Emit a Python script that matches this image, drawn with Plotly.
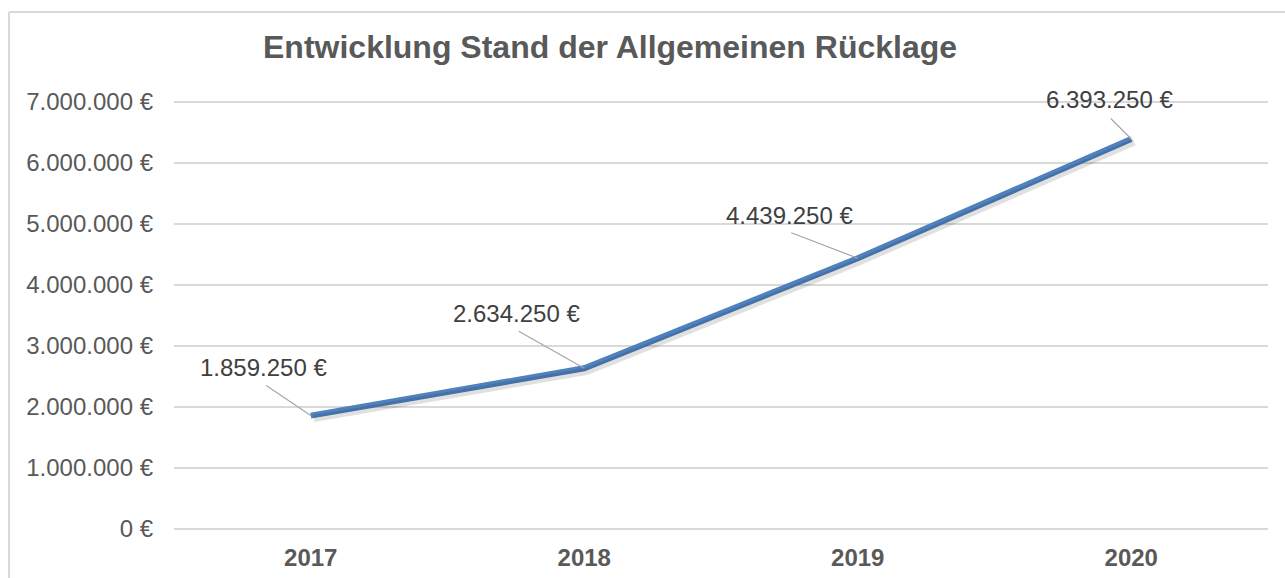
import plotly.graph_objects as go

years = ["2017", "2018", "2019", "2020"]
values = [1859250, 2634250, 4439250, 6393250]
tick_values = [0, 1000000, 2000000, 3000000, 4000000, 5000000, 6000000, 7000000]
tick_labels = ["0 €", "1.000.000 €", "2.000.000 €", "3.000.000 €", "4.000.000 €",
               "5.000.000 €", "6.000.000 €", "7.000.000 €"]
title_text = "Entwicklung Stand der Allgemeinen Rücklage"

# pixel offsets for data labels and leader lines (relative to each point)
label_dx = [-47, -68, -68, -22]
label_dy = [48, 55, 43, 40]
leader_dx = [-46, -67, -68, -22]
leader_dy = [-31, -38, -26, -22]


def fmt(v):
    return f"{v:,.0f}".replace(",", ".") + " €"


FONT = "Liberation Sans, Arial, sans-serif"

W, H = 1285, 578
L, R, T, B = 174, 17, 99, 46
PW, PH = W - L - R, H - T - B
YMAX = 7000000
PAD = 3 * YMAX / (PH - 6)          # 3px padding so edge gridlines are drawn
XU = 4.0 / PW                        # category units per pixel
YU = (YMAX + 2 * PAD) / PH           # value units per pixel
SH = 3                               # shadow offset in px


def px(xp):
    return (xp - L) / PW


def py(yp):
    return (H - B - yp) / PH


fig = go.Figure()
# soft shadow under the line (same data on offset hidden axes)
fig.add_trace(go.Scatter(
    x=years, y=values, mode="lines", xaxis="x2", yaxis="y2",
    line=dict(color="rgba(0,0,0,0.12)", width=7),
    hoverinfo="skip", showlegend=False,
))
fig.add_trace(go.Scatter(
    x=years, y=values, mode="lines",
    line=dict(color="#4f81bd", width=6),
    hoverinfo="skip", showlegend=False,
))

annotations = []
for i, v in enumerate(values):
    annotations.append(dict(
        x=i, y=v, xref="x", yref="y", text="", showarrow=True,
        arrowhead=0, arrowwidth=1.2, arrowcolor="#a6a6a6",
        ax=leader_dx[i], ay=leader_dy[i], standoff=0, startstandoff=0,
    ))
    annotations.append(dict(
        x=i, y=v, xref="x", yref="y", text=fmt(v), showarrow=False,
        xshift=label_dx[i], yshift=label_dy[i],
        font=dict(family=FONT, size=24, color="#404040"),
        xanchor="center", yanchor="middle",
    ))

annotations.append(dict(
    x=px(610), y=py(47), xref="paper", yref="paper",
    text="<b>" + title_text + "</b>", showarrow=False,
    xanchor="center", yanchor="middle",
    font=dict(family=FONT, size=32, color="#595959"),
))

shapes = [
    dict(type="line", xref="paper", yref="paper",
         x0=px(9), x1=px(W + 5), y0=py(12), y1=py(12),
         line=dict(color="#d9d9d9", width=2)),
    dict(type="line", xref="paper", yref="paper",
         x0=px(9), x1=px(9), y0=py(12), y1=py(H + 5),
         line=dict(color="#d9d9d9", width=2)),
]

fig.update_layout(
    width=W, height=H,
    margin=dict(l=L, r=R, t=T, b=B, pad=0, autoexpand=False),
    paper_bgcolor="white", plot_bgcolor="white",
    showlegend=False,
    annotations=annotations,
    shapes=shapes,
    xaxis=dict(
        type="category", range=[-0.5, 3.5], automargin=False,
        showgrid=False, zeroline=False, showline=False,
        tickfont=dict(family=FONT, size=24, color="#595959", weight="bold"),
        ticks="", ticklabelstandoff=9,
    ),
    yaxis=dict(
        range=[-PAD, YMAX + PAD], tickvals=tick_values, ticktext=tick_labels,
        automargin=False,
        showgrid=True, gridcolor="#d9d9d9", gridwidth=1.5,
        zeroline=False, showline=False, ticks="",
        tickfont=dict(family=FONT, size=24, color="#595959"),
        ticklabelstandoff=20,
    ),
    xaxis2=dict(
        type="category", overlaying="x", visible=False, automargin=False,
        range=[-0.5 - SH * XU, 3.5 - SH * XU],
    ),
    yaxis2=dict(
        overlaying="y", visible=False, automargin=False,
        range=[-PAD + SH * YU, YMAX + PAD + SH * YU],
    ),
)

fig.write_html(
    "out.html",
    config={"displayModeBar": False, "staticPlot": True},
    post_script=(
        "document.body.style.margin='0';"
        "document.body.style.overflow='hidden';"
        "document.documentElement.style.overflow='hidden';"
    ),
)
